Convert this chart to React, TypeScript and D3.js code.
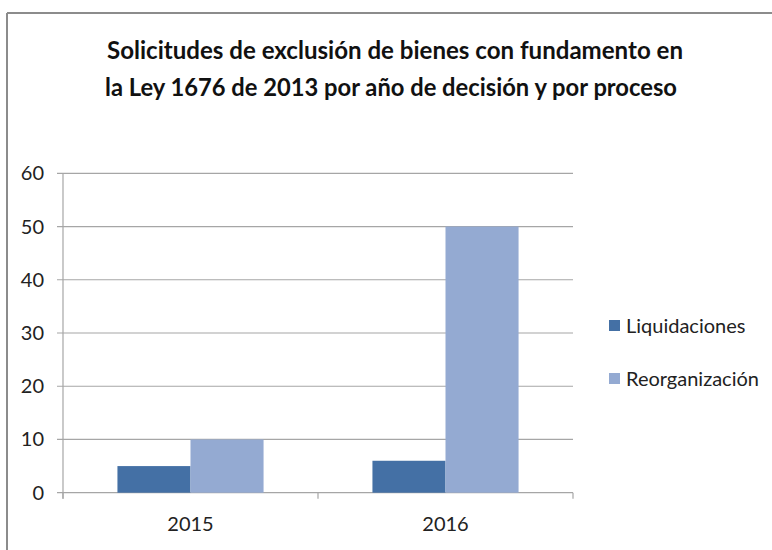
import React from "react";
import * as d3 from "d3";

const categories = ["2015", "2016"];
const seriesNames = ["Liquidaciones", "Reorganización"];
const liquidaciones = [5, 6];
const reorganizacion = [10, 50];
const yTicks = [0, 10, 20, 30, 40, 50, 60];
const titleLines = [
  "Solicitudes de exclusión de bienes con fundamento en",
  "la Ley 1676 de 2013 por año de decisión y por proceso",
];
const colors = ["#4470A5", "#94AAD2"];

export default function App() {
  const W = 772, H = 550;
  const left = 63, right = 573, top = 173.3, bottom = 492.7;
  const font = "Lato, 'Open Sans', sans-serif";
  const y = d3.scaleLinear().domain([0, 60]).range([bottom, top]);
  const x0 = d3.scaleBand().domain(categories).range([left, right]).paddingInner(0.427).paddingOuter(0.2135);
  const x1 = d3.scaleBand().domain(seriesNames).range([0, x0.bandwidth()]);
  const series = [liquidaciones, reorganizacion];
  const grid = "#A6A6A6";
  return (
    <svg width={W} height={H} style={{ position: "absolute", left: 0, top: 0, background: "#fff" }}>
      <rect x={0} y={0} width={W} height={H} fill="#fff" />
      <line x1={7} y1={13} x2={W} y2={13} stroke="#8C8C8C" strokeWidth={2} />
      <line x1={7} y1={13} x2={7} y2={H} stroke="#8C8C8C" strokeWidth={2} />
      {titleLines.map((t, i) => (
        <text key={i} x={i === 0 ? 107 : 105} y={i === 0 ? 59 : 96} fontFamily={font} fontWeight="bold" fontSize={24}
          fill="#111" textLength={i === 0 ? 576 : 572} lengthAdjust="spacingAndGlyphs">{t}</text>
      ))}
      {yTicks.map((t) => (
        <g key={t}>
          <line x1={t === 0 ? left - 6 : left - 6} x2={right} y1={y(t)} y2={y(t)} stroke={grid} strokeWidth={1.2} />
          <text x={44} y={y(t) + 7} textAnchor="end" fontFamily={font} fontSize={20} fill="#222">{t}</text>
        </g>
      ))}
      <line x1={left} x2={left} y1={top} y2={bottom + 6} stroke={grid} strokeWidth={1.2} />
      {categories.map((c, ci) => (
        <g key={c}>
          {series.map((s, si) => (
            <rect key={si} x={(x0(c) as number) + (x1(seriesNames[si]) as number)} y={y(s[ci])}
              width={x1.bandwidth()} height={bottom - y(s[ci])} fill={colors[si]} />
          ))}
          <text x={(x0(c) as number) + x0.bandwidth() / 2} y={531} textAnchor="middle" fontFamily={font} fontSize={20} fill="#222">{c}</text>
        </g>
      ))}
      {[0, 1, 2].map((i) => {
        const xx = left + (i * (right - left)) / 2;
        return <line key={i} x1={xx} x2={xx} y1={bottom} y2={bottom + 6} stroke={grid} strokeWidth={1.2} />;
      })}
      {seriesNames.map((n, i) => (
        <g key={n}>
          <rect x={609} y={320 + i * 53} width={11} height={11} fill={colors[i]} />
          <text x={626} y={333 + i * 53} fontFamily={font} fontSize={20} fill="#222">{n}</text>
        </g>
      ))}
    </svg>
  );
}
